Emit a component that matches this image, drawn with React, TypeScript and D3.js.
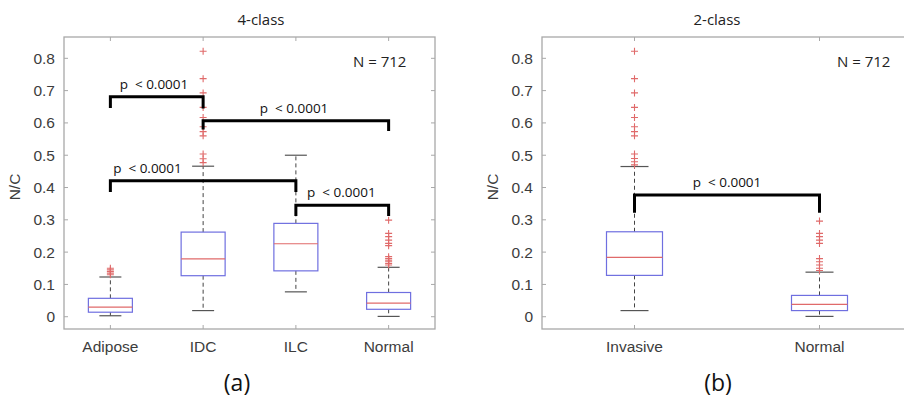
import * as d3 from "d3";

// 4-class panel
const fourCats = ["Adipose", "IDC", "ILC", "Normal"];
const fourLow = [0.003, 0.019, 0.077, 0.001];
const fourQ1 = [0.014, 0.127, 0.142, 0.023];
const fourMedian = [0.03, 0.179, 0.226, 0.042];
const fourQ3 = [0.057, 0.262, 0.289, 0.075];
const fourHigh = [0.123, 0.466, 0.5, 0.153];
const fourOutliers = [
  [0.13, 0.135, 0.14, 0.145, 0.15],
  [0.477, 0.489, 0.504, 0.56, 0.573, 0.588, 0.617, 0.648, 0.693, 0.737, 0.822],
  [],
  [0.16, 0.165, 0.17, 0.175, 0.18, 0.186, 0.22, 0.227, 0.237, 0.248, 0.258, 0.299],
];
// bracket: from/to category index, bar level, leg ends, label centre (category units)
const fourBrackets = [
  { a: 0, b: 1, y: 0.681, ya: 0.646, yb: 0.645, lx: 1.47 },
  { a: 1, b: 3, y: 0.607, ya: 0.58, yb: 0.575, lx: 2.98 },
  { a: 0, b: 2, y: 0.421, ya: 0.386, yb: 0.386, lx: 1.4 },
  { a: 2, b: 3, y: 0.345, ya: 0.312, yb: 0.312, lx: 3.49 },
];

// 2-class panel
const twoCats = ["Invasive", "Normal"];
const twoLow = [0.019, 0.001];
const twoQ1 = [0.128, 0.019];
const twoMedian = [0.184, 0.038];
const twoQ3 = [0.263, 0.066];
const twoHigh = [0.465, 0.138];
const twoOutliers = [
  [0.47, 0.48, 0.49, 0.504, 0.56, 0.573, 0.588, 0.617, 0.648, 0.693, 0.737, 0.822],
  [0.143, 0.15, 0.16, 0.17, 0.18, 0.227, 0.237, 0.248, 0.258, 0.296],
];
const twoBrackets = [{ a: 0, b: 1, y: 0.377, ya: 0.322, yb: 0.322, lx: 1.5 }];

const yTicks = [0, 0.1, 0.2, 0.3, 0.4, 0.5, 0.6, 0.7, 0.8];

const BOX = "#6f6fe0";
const MED = "#e06a6a";
const OUT = "#e06a6a";
const AXIS = "#a8a8a8";
const TXT = "#3c3c3c";
const ANN = "'Open Sans', 'Noto Sans', sans-serif";
const TICKF = "'Liberation Sans', Arial, sans-serif";

interface PanelProps {
  left: number;
  right: number;
  cats: string[];
  low: number[];
  q1: number[];
  median: number[];
  q3: number[];
  high: number[];
  outliers: number[][];
  brackets: { a: number; b: number; y: number; ya: number; yb: number; lx: number }[];
  boxHalf: number;
  title: string;
  titleX: number;
  tag: string;
  tagX: number;
  nX: number;
}

function Panel(p: PanelProps) {
  const top = 37;
  const bottom = 329;
  const x = d3.scaleLinear().domain([0.5, p.cats.length + 0.5]).range([p.left, p.right]);
  const y = d3.scaleLinear().domain([-0.038, 0.866]).range([bottom, top]);
  const capHalf = p.boxHalf / 2;

  return (
    <g>
      <text x={p.titleX} y={25} textAnchor="middle" fontFamily={ANN} fontSize={15} fill="#222">
        {p.title}
      </text>
      <rect x={p.left} y={top} width={p.right - p.left} height={bottom - top} fill="none" stroke={AXIS} strokeWidth={1.3} />
      {yTicks.map((t) => (
        <g key={t}>
          <line x1={p.left} x2={p.left + 4} y1={y(t)} y2={y(t)} stroke={AXIS} />
          <line x1={p.right} x2={p.right - 4} y1={y(t)} y2={y(t)} stroke={AXIS} />
          <text x={p.left - 9} y={y(t)} dy="0.35em" textAnchor="end" fontFamily={TICKF} fontSize={15.5} fill={TXT}>
            {d3.format("")(t)}
          </text>
        </g>
      ))}
      {p.cats.map((c, i) => (
        <g key={c}>
          <line x1={x(i + 1)} x2={x(i + 1)} y1={bottom} y2={bottom - 4} stroke={AXIS} />
          <line x1={x(i + 1)} x2={x(i + 1)} y1={top} y2={top + 4} stroke={AXIS} />
          <text x={x(i + 1)} y={352} textAnchor="middle" fontFamily={TICKF} fontSize={15.5} fill={TXT}>
            {c}
          </text>
        </g>
      ))}
      <text
        transform={`translate(${p.left - 44},${(top + bottom) / 2 + 4}) rotate(-90)`}
        textAnchor="middle"
        fontFamily={TICKF}
        fontSize={15.5}
        fill={TXT}
      >
        N/C
      </text>
      <text x={p.nX} y={67} fontFamily={ANN} fontSize={15} fill="#222">
        N = 712
      </text>

      {p.cats.map((c, i) => {
        const cx = x(i + 1);
        return (
          <g key={c}>
            <line x1={cx} x2={cx} y1={y(p.q3[i])} y2={y(p.high[i])} stroke="#444" strokeDasharray="4,3" />
            <line x1={cx} x2={cx} y1={y(p.q1[i])} y2={y(p.low[i])} stroke="#444" strokeDasharray="4,3" />
            <line x1={cx - capHalf} x2={cx + capHalf} y1={y(p.high[i])} y2={y(p.high[i])} stroke="#555" strokeWidth={1.2} />
            <line x1={cx - capHalf} x2={cx + capHalf} y1={y(p.low[i])} y2={y(p.low[i])} stroke="#555" strokeWidth={1.2} />
            <rect
              x={cx - p.boxHalf}
              y={y(p.q3[i])}
              width={p.boxHalf * 2}
              height={y(p.q1[i]) - y(p.q3[i])}
              fill="none"
              stroke={BOX}
              strokeWidth={1.2}
            />
            <line x1={cx - p.boxHalf} x2={cx + p.boxHalf} y1={y(p.median[i])} y2={y(p.median[i])} stroke={MED} strokeWidth={1.2} />
            {p.outliers[i].map((v, j) => (
              <path
                key={j}
                d={`M${cx - 3.5},${y(v)}H${cx + 3.5}M${cx},${y(v) - 3.5}V${y(v) + 3.5}`}
                stroke={OUT}
                strokeWidth={1.1}
              />
            ))}
          </g>
        );
      })}

      {p.brackets.map((b, i) => {
        const xa = x(b.a + 1);
        const xb = x(b.b + 1);
        return (
          <g key={i}>
            <path
              d={`M${xa},${y(b.ya)}V${y(b.y)}H${xb}V${y(b.yb)}`}
              fill="none"
              stroke="#000"
              strokeWidth={3}
            />
            <text
              x={x(b.lx)}
              y={y(b.y) - 8}
              textAnchor="middle"
              fontFamily={ANN}
              fontSize={13.5}
              fill="#111"
              style={{ whiteSpace: "pre" }}
            >
              {"p  < 0.0001"}
            </text>
          </g>
        );
      })}

      <text x={p.tagX} y={391} textAnchor="middle" fontFamily={ANN} fontSize={23} fill="#111">
        {p.tag}
      </text>
    </g>
  );
}

export default function App() {
  return (
    <div style={{ position: "absolute", left: 0, top: 0, width: 904, height: 397, overflow: "hidden", background: "#fff" }}>
      <svg width={904} height={397} style={{ display: "block" }}>
        <rect width={904} height={397} fill="#fff" />
        <Panel
          left={64}
          right={435}
          cats={fourCats}
          low={fourLow}
          q1={fourQ1}
          median={fourMedian}
          q3={fourQ3}
          high={fourHigh}
          outliers={fourOutliers}
          brackets={fourBrackets}
          boxHalf={22}
          title="4-class"
          titleX={261}
          tag="(a)"
          tagX={237}
          nX={353}
        />
        <Panel
          left={542}
          right={912}
          cats={twoCats}
          low={twoLow}
          q1={twoQ1}
          median={twoMedian}
          q3={twoQ3}
          high={twoHigh}
          outliers={twoOutliers}
          brackets={twoBrackets}
          boxHalf={28}
          title="2-class"
          titleX={717}
          tag="(b)"
          tagX={718}
          nX={837}
        />
      </svg>
    </div>
  );
}
